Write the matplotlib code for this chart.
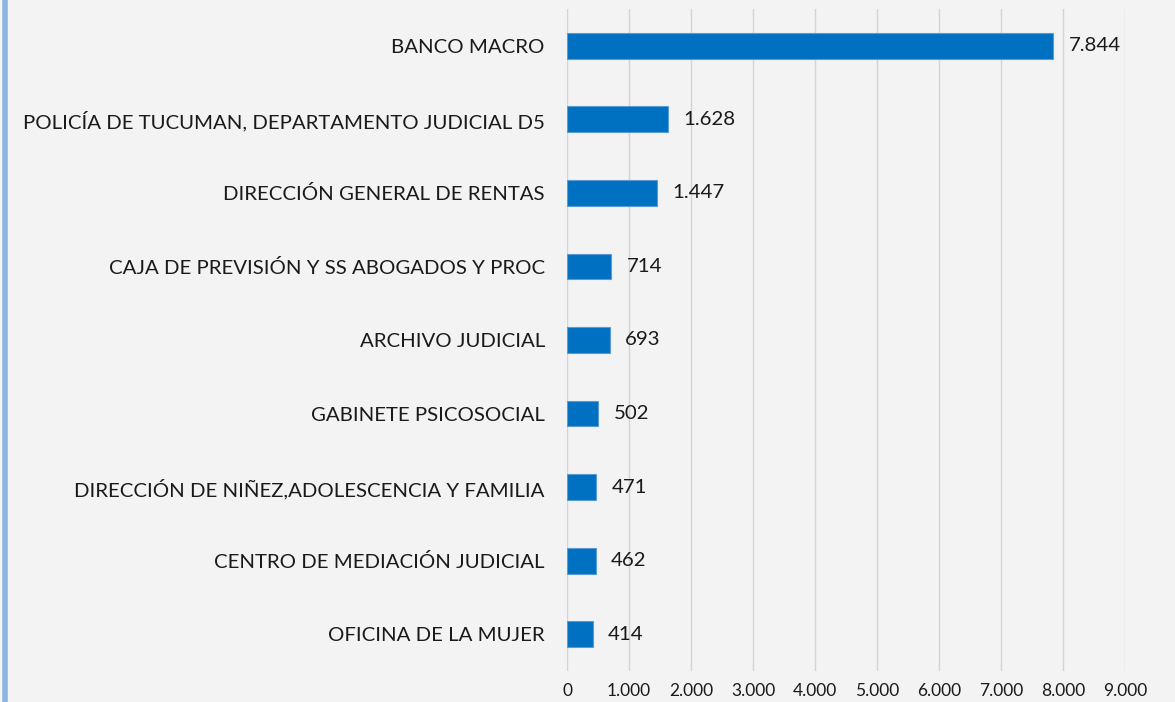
import matplotlib.pyplot as plt
import matplotlib.ticker as ticker
from matplotlib.lines import Line2D

# datos
categorias = [
    "BANCO MACRO",
    "POLICÍA DE TUCUMAN, DEPARTAMENTO JUDICIAL D5",
    "DIRECCIÓN GENERAL DE RENTAS",
    "CAJA DE PREVISIÓN Y SS ABOGADOS Y PROC",
    "ARCHIVO JUDICIAL",
    "GABINETE PSICOSOCIAL",
    "DIRECCIÓN DE NIÑEZ,ADOLESCENCIA Y FAMILIA",
    "CENTRO DE MEDIACIÓN JUDICIAL",
    "OFICINA DE LA MUJER",
]
valores = [7844, 1628, 1447, 714, 693, 502, 471, 462, 414]
ticks_x = [0, 1000, 2000, 3000, 4000, 5000, 6000, 7000, 8000, 9000]


def miles(v, pos=None):
    # separador de miles con punto
    return f"{int(v):,}".replace(",", ".")


plt.rcParams['font.family'] = ['Lato', 'DejaVu Sans']

fig = plt.figure(figsize=(11.75, 7.02), dpi=100)
fig.patch.set_facecolor('#f3f3f3')
ax = fig.add_axes([0.4826, 0.0442, 0.4749, 0.9430])
ax.set_facecolor('none')

y = list(range(len(categorias)))
bars = ax.barh(y, valores, height=0.35, color='#0070C0',
               edgecolor='#5b9bd5', linewidth=0.8, zorder=3)

for b, v in zip(bars, valores):
    ax.annotate(miles(v), xy=(b.get_width(), b.get_y() + b.get_height() / 2),
                xytext=(11, 0), textcoords='offset points',
                va='center', ha='left', fontsize=14.7, color='#1a1a1a')

ax.set_yticks(y)
ax.set_yticklabels(categorias, fontsize=14.7, color='#1a1a1a')
ax.set_ylim(len(categorias) - 0.5, -0.5)

ax.set_xlim(0, 9000)
ax.set_xticks(ticks_x)
ax.xaxis.set_major_formatter(ticker.FuncFormatter(miles))
ax.tick_params(axis='x', labelsize=12.5, colors='#1a1a1a', length=0, pad=9)
ax.tick_params(axis='y', length=0, pad=16)

ax.grid(axis='x', color='#d4d4d4', linewidth=1, zorder=0)
for s in ax.spines.values():
    s.set_visible(False)

# borde azul a la izquierda
fig.add_artist(Line2D([0.004, 0.004], [0, 1], color='#8eb4e3',
                      linewidth=4, transform=fig.transFigure))

plt.savefig('out.png', dpi=100, facecolor=fig.get_facecolor())
